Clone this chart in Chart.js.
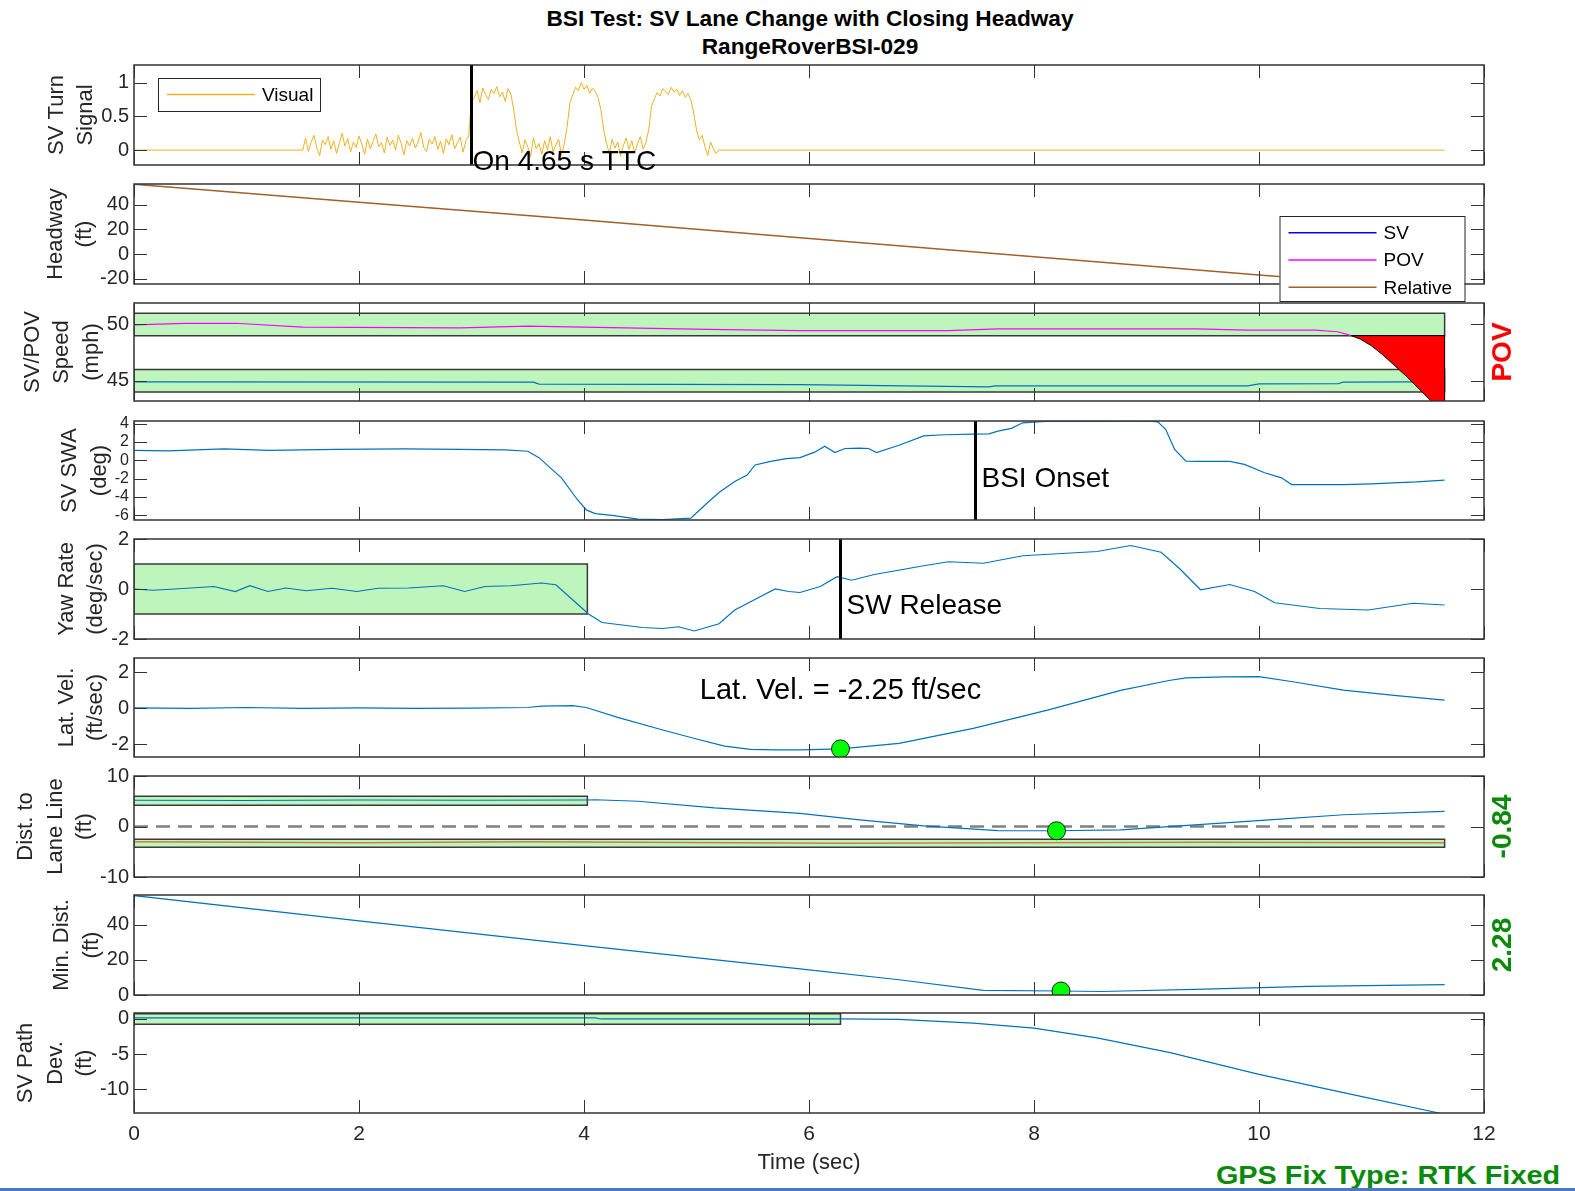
<!DOCTYPE html>
<html>
<head>
<meta charset="utf-8">
<title>BSI Test: SV Lane Change with Closing Headway</title>
<script src="https://cdn.jsdelivr.net/npm/chart.js@4.4.1/dist/chart.umd.min.js"></script>
<style>
  html, body { margin: 0; padding: 0; background: #fff; }
  body { width: 1575px; height: 1191px; position: relative; overflow: hidden; font-family: "Liberation Sans", Arial, sans-serif; }
  canvas { position: absolute; left: 0; }
  .title { position: absolute; left: 810px; font-weight: bold; font-size: 22px; color: #000; white-space: nowrap; transform: translate(-50%, -50%) scaleX(1.03); }
  #gps { position: absolute; right: 15px; top: 1175px; font-weight: bold; font-size: 26px; color: #0a8a0a; white-space: nowrap; transform-origin: right center; transform: translateY(-50%) scaleX(1.11); }
  #rule { position: absolute; left: 0; right: 0; bottom: 0; height: 3px; background: #4a78c2; z-index: 5; }
</style>
</head>
<body>
<div class="title" style="top:19px">BSI Test: SV Lane Change with Closing Headway</div>
<div class="title" style="top:47px">RangeRoverBSI-029</div>
<div id="gps">GPS Fix Type: RTK Fixed</div>
<div id="rule"></div>
<script>
// ---- data ----
const xTicks = [0, 2, 4, 6, 8, 10, 12];
const tEnd = 11.65;

// SV turn signal (visual), sampled every 25 ms from 1.5 s
const turnStart = 1.5, turnStep = 0.025;
const turnVals = [
  0.00, 0.18, -0.02, 0.12, 0.22, 0.03, -0.08, 0.15, 0.08, 0.20,
  0.01, 0.14, -0.05, 0.10, 0.25, 0.06, 0.17, -0.03, 0.12, 0.04,
  0.21, 0.09, -0.06, 0.16, 0.02, 0.13, 0.24, 0.05, 0.11, -0.04,
  0.19, 0.07, 0.15, 0.00, 0.22, 0.10, -0.07, 0.14, 0.06, 0.18,
  0.03, 0.12, 0.26, 0.04, -0.02, 0.16, 0.09, 0.20, 0.01, 0.13,
  -0.05, 0.17, 0.08, 0.23, 0.02, 0.11, 0.19, -0.03, 0.14, 0.21,
  0.72,
  0.78, 0.88, 0.70, 0.92, 0.82, 0.75, 0.90, 0.84, 0.94, 0.79, 0.86, 0.72, 0.91, 0.83,
  0.60, 0.30,
  0.12, -0.04, 0.15, 0.05, -0.10, 0.18, 0.02, 0.10, -0.06, 0.14, 0.00, 0.20, -0.03, 0.08, 0.16, -0.08, 0.10,
  0.35, 0.70,
  0.82, 0.93, 0.88, 1.00, 0.90, 0.96, 0.84, 0.92, 0.87, 0.78,
  0.60, 0.30,
  0.10, -0.05, 0.16, 0.03, 0.12, -0.09, 0.07, 0.18, 0.01, 0.14, -0.04, 0.09, 0.20, 0.02, 0.11,
  0.30, 0.65,
  0.76, 0.85, 0.80, 0.91, 0.87, 0.82, 0.93, 0.86, 0.90, 0.81, 0.88, 0.78, 0.84, 0.74,
  0.55, 0.30,
  0.15, 0.22, 0.05, -0.08, 0.12, 0.02, -0.05,
  0.00
];
const turnTicks = [0, 0.5, 1];
const ttcT = 3.0;

// headway
const headT = [0, 2, 4, 5.92, 8, 10, 11.65];
const headRel = [56.5, 42, 27.5, 13.2, -2.2, -17, -28.5];
const headTicks = [-20, 0, 20, 40];

// SV / POV speed
const povT = [0, 0.45, 0.9, 1.5, 2.9, 3.5, 5.1, 5.92, 7.24, 7.68, 9.44, 9.9, 10.5, 10.7, 10.82];
const povV = [49.95, 50.1, 50.1, 49.75, 49.7, 49.85, 49.55, 49.45, 49.45, 49.6, 49.6, 49.5, 49.5, 49.35, 49.0];
const svT = [0, 3.55, 3.6, 5.92, 7.6, 7.65, 9.9, 10.0, 10.7, 10.75, 11.4];
const svV = [44.9, 44.88, 44.7, 44.65, 44.45, 44.55, 44.55, 44.72, 44.73, 44.88, 44.9];
const povDropT = [10.82, 10.9, 11.0, 11.1, 11.2, 11.32, 11.43, 11.54, 11.65, 11.65, 10.82];
const povDropV = [49.0, 48.7, 48.1, 47.3, 46.4, 45.3, 44.2, 43.1, 42.0, 49.0, 49.0];
const povBandT = [0, 11.65], povBandY = [49, 51];
const svBandT = [0, 11.65], svBandY = [44, 46];
const speedTicks = [45, 50];

// steering wheel angle
const swaT = [0, 0.3, 0.8, 1.2, 1.8, 2.4, 2.9, 3.3, 3.5, 3.6, 3.68, 3.8, 3.93, 4.02, 4.1, 4.25, 4.48, 4.7, 4.95, 5.09,
  5.2, 5.34, 5.45, 5.52, 5.66, 5.8, 5.92, 6.05, 6.14, 6.23, 6.32, 6.45, 6.53, 6.6, 6.8, 7.02, 7.2, 7.46, 7.6, 7.68,
  7.8, 7.9, 8.1, 8.56, 9.0, 9.1, 9.17, 9.25, 9.35, 9.45, 9.74, 9.87, 10.05, 10.2, 10.29, 10.75, 11.0, 11.19, 11.4, 11.65];
const swaV = [1.1, 1.05, 1.25, 1.1, 1.2, 1.25, 1.2, 1.15, 1.0, 0.3, -0.6, -1.9, -4.1, -5.4, -5.8, -6.0, -6.4, -6.45, -6.3, -4.7,
  -3.5, -2.3, -1.6, -0.5, -0.1, 0.2, 0.3, 0.9, 1.55, 0.85, 1.3, 1.35, 1.3, 0.85, 1.65, 2.67, 2.8, 2.86, 2.9, 3.2,
  3.5, 4.1, 4.25, 4.25, 4.3, 4.2, 3.4, 1.2, -0.07, -0.1, -0.1, -0.44, -1.35, -1.9, -2.64, -2.64, -2.55, -2.45, -2.35, -2.16];
const swaTicks = [-6, -4, -2, 0, 2, 4];
const bsiOnsetT = 7.48;

// yaw rate
const yawT = [0, 0.17, 0.4, 0.71, 0.9, 1.03, 1.19, 1.35, 1.53, 1.76, 1.98, 2.17, 2.44, 2.75, 2.94, 3.12, 3.35, 3.62, 3.75, 4.04,
  4.16, 4.52, 4.7, 4.84, 4.98, 5.2, 5.34, 5.57, 5.7, 5.82, 5.92, 6.1, 6.25, 6.38, 6.58, 7.02, 7.24, 7.55, 7.9, 8.56,
  8.86, 9.13, 9.3, 9.48, 9.74, 9.96, 10.14, 10.54, 10.97, 11.37, 11.65];
const yawV = [0, -0.05, 0.01, 0.1, -0.1, 0.13, -0.1, 0.04, -0.07, 0.03, -0.1, 0.03, 0.04, 0.13, -0.1, 0.1, 0.13, 0.24, 0.17, -1.0,
  -1.34, -1.54, -1.58, -1.51, -1.68, -1.39, -0.84, -0.3, 0, -0.1, -0.14, 0.1, 0.49, 0.35, 0.58, 0.93, 1.09, 1.03, 1.33, 1.5,
  1.74, 1.47, 0.79, -0.03, 0.18, -0.1, -0.55, -0.78, -0.84, -0.57, -0.64];
const yawBandT = [0, 4.03], yawBandY = [-1, 1];
const yawTicks = [-2, 0, 2];
const swReleaseT = 6.28;

// lateral velocity
const latT = [0, 0.5, 1.0, 1.5, 2.0, 2.5, 3.0, 3.5, 3.62, 3.9, 4.02, 4.3, 4.7, 5.0, 5.25, 5.48, 5.7, 5.92, 6.28, 6.8,
  7.46, 8.12, 8.77, 9.2, 9.35, 9.7, 10.0, 10.3, 10.75, 11.2, 11.65];
const latV = [0.03, 0.0, 0.05, 0.0, 0.03, 0.0, 0.02, 0.05, 0.13, 0.15, 0.05, -0.5, -1.2, -1.7, -2.1, -2.28, -2.3, -2.3, -2.25, -1.94,
  -1.11, -0.1, 1.0, 1.55, 1.7, 1.75, 1.76, 1.48, 1.02, 0.72, 0.46];
const latTicks = [-2, 0, 2];
const latMark = [6.28, -2.25];

// distance to lane line
const laneT = [0, 1, 2, 3, 4.0, 4.1, 4.48, 5.16, 5.92, 6.45, 7.02, 7.68, 8.2, 8.77, 9.43, 10.09, 10.75, 11.65];
const laneV = [5.2, 5.15, 5.25, 5.2, 5.25, 5.3, 5.0, 3.67, 2.6, 1.33, 0.13, -0.8, -0.84, -0.67, 0.33, 1.33, 2.33, 3.0];
const laneOtherT = [0, 2.0, 3.5, 6.3, 9.5, 11.65];
const laneOtherV = [-3.0, -3.2, -3.0, -3.3, -3.1, -3.2];
const laneBandUpT = [0, 4.03], laneBandUpY = [4.2, 6.0];
const laneBandLoT = [0, 11.65], laneBandLoY = [-4.1, -2.5];
const laneTicks = [-10, 0, 10];
const laneMark = [8.2, -0.84];

// minimum distance
const minT = [0, 2, 4, 5.92, 6.8, 7.55, 8.24, 8.6, 9.52, 10.44, 11.65];
const minV = [56.8, 42.3, 28.2, 14.9, 8.7, 2.6, 2.28, 2.0, 3.4, 4.9, 5.9];
const minTicks = [0, 20, 40];
const minMark = [8.24, 2.28];

// SV path deviation
const pathT = [0, 4.1, 4.15, 6.28, 6.8, 7.46, 8.0, 8.56, 9.21, 10.0, 10.75, 11.6, 11.65];
const pathV = [0.15, 0.15, 0.0, 0.0, -0.05, -0.6, -1.3, -2.7, -4.8, -7.9, -10.5, -13.4, -13.6];
const pathBandT = [0, 6.28], pathBandY = [-0.75, 0.75];
const pathTicks = [-10, -5, 0];

// ---- helpers ----
const FONT = '"Liberation Sans", Arial, sans-serif';
const PLOT_LEFT = 134, PLOT_RIGHT = 1484, PAGE_W = 1575, PAD = 30, TICK = 13;
const BLUE = '#0072BD';
Chart.defaults.font.family = FONT;

const xy = (ts, vs) => ts.map((t, i) => ({x: t, y: vs[i]}));
const line = (data, color, width, extra) =>
  Object.assign({data, borderColor: color, borderWidth: width, pointRadius: 0, fill: false, order: 2}, extra || {});
const rect = (tr, yr) => [{x: tr[0], y: yr[0]}, {x: tr[0], y: yr[1]}, {x: tr[1], y: yr[1]}, {x: tr[1], y: yr[0]}, {x: tr[0], y: yr[0]}];
const band = (tr, yr) => ({data: rect(tr, yr), borderColor: '#3a3a3a', borderWidth: 1.5, backgroundColor: '#bdf5bd',
  fill: 'shape', pointRadius: 0, order: 10});
const vline = (t, lo, hi) => line([{x: t, y: lo}, {x: t, y: hi}], '#000', 3, {order: 1});
const marker = (m) => ({data: [{x: m[0], y: m[1]}], showLine: false, pointRadius: 9, pointBackgroundColor: '#00ff00',
  pointBorderColor: '#1a1a1a', pointBorderWidth: 1, order: 0});

const turnPts = [{x: 0, y: 0}];
turnVals.forEach((v, i) => turnPts.push({x: turnStart + i * turnStep, y: v}));
turnPts.push({x: tEnd, y: 0});

const panels = [
  {top: 65, bottom: 165, yMin: -0.22, yMax: 1.26, yTicks: turnTicks, title: ['SV Turn', 'Signal'],
   datasets: [line(turnPts, '#EDB120', 1), vline(ttcT, -0.22, 1.26)],
   notes: [{text: 'On 4.65 s TTC', t: ttcT, v: -0.18, dx: 1, align: 'left', size: 28}],
   legend: {dx: 24, dy: 13, w: 162, h: 33, items: [['Visual', '#EDB120']]}},
  {top: 184, bottom: 284, yMin: -24.3, yMax: 56.7, yTicks: headTicks, title: ['Headway', '(ft)'],
   datasets: [line(xy(headT, headRel), '#A0602A', 1.5)],
   legend: {dx: 1145.5, dy: 32, w: 185, h: 85, items: [['SV', '#0000FF'], ['POV', '#FF00FF'], ['Relative', '#A0602A']]}},
  {top: 303, bottom: 401, yMin: 43.2, yMax: 51.9, yTicks: speedTicks, title: ['SV/POV', 'Speed', '(mph)'],
   datasets: [
     line(xy(povDropT, povDropV), '#000', 1, {fill: 'shape', backgroundColor: '#ff0000', order: 1}),
     line(xy(povT, povV), '#FF00FF', 1.2),
     line(xy(svT, svV), BLUE, 1.2),
     band(povBandT, povBandY), band(svBandT, svBandY)],
   side: {text: 'POV', color: '#ff0000'}},
  {top: 421, bottom: 520, yMin: -6.5, yMax: 4.3, yTicks: swaTicks, tickSize: 16, title: ['SV SWA', '(deg)'],
   datasets: [line(xy(swaT, swaV), BLUE, 1.2), vline(bsiOnsetT, -6.5, 4.3)],
   notes: [{text: 'BSI Onset', t: bsiOnsetT, v: -2.1, dx: 6, align: 'left', size: 28}]},
  {top: 539, bottom: 639, yMin: -2, yMax: 2, yTicks: yawTicks, title: ['Yaw Rate', '(deg/sec)'],
   datasets: [line(xy(yawT, yawV), BLUE, 1.2), vline(swReleaseT, -2, 2), band(yawBandT, yawBandY)],
   notes: [{text: 'SW Release', t: swReleaseT, v: -0.71, dx: 6, align: 'left', size: 28}]},
  {top: 658, bottom: 757, yMin: -2.7, yMax: 2.8, yTicks: latTicks, title: ['Lat. Vel.', '(ft/sec)'],
   datasets: [marker(latMark), line(xy(latT, latV), BLUE, 1.2)],
   notes: [{text: 'Lat. Vel. = -2.25 ft/sec', t: latMark[0], v: 0.96, dx: 0, align: 'center', size: 29}]},
  {top: 776, bottom: 877, yMin: -10, yMax: 10, yTicks: laneTicks, title: ['Dist. to', 'Lane Line', '(ft)'],
   datasets: [marker(laneMark), line(xy(laneT, laneV), BLUE, 1.2),
     line([{x: 0, y: 0}, {x: tEnd, y: 0}], '#808080', 2.5, {borderDash: [14, 8], order: 3}),
     line(xy(laneOtherT, laneOtherV), 'rgba(217,83,25,0.75)', 1.5, {order: 3}),
     band(laneBandUpT, laneBandUpY), band(laneBandLoT, laneBandLoY)],
   side: {text: '-0.84', color: '#0a8a0a'}},
  {top: 895, bottom: 995, yMin: 0, yMax: 57.1, yTicks: minTicks, title: ['Min. Dist.', '(ft)'],
   datasets: [marker(minMark), line(xy(minT, minV), BLUE, 1.2)],
   side: {text: '2.28', color: '#0a8a0a'}},
  {top: 1013, bottom: 1113, yMin: -13.4, yMax: 0.85, yTicks: pathTicks, title: ['SV Path', 'Dev.', '(ft)'], last: true,
   datasets: [line(xy(pathT, pathV), BLUE, 1.2), band(pathBandT, pathBandY)]}
];

function framePlugin(p) {
  return {
    id: 'matlabFrame',
    afterDatasetsDraw(chart) {
      const {ctx, chartArea: a, scales: {x, y}} = chart;
      ctx.save();
      // inward ticks + box
      ctx.strokeStyle = '#333';
      ctx.lineWidth = 1;
      ctx.beginPath();
      xTicks.forEach(v => {
        const px = Math.round(x.getPixelForValue(v)) + 0.5;
        ctx.moveTo(px, a.top); ctx.lineTo(px, a.top + TICK);
        ctx.moveTo(px, a.bottom); ctx.lineTo(px, a.bottom - TICK);
      });
      p.yTicks.forEach(v => {
        const py = Math.round(y.getPixelForValue(v)) + 0.5;
        ctx.moveTo(a.left, py); ctx.lineTo(a.left + TICK, py);
        ctx.moveTo(a.right, py); ctx.lineTo(a.right - TICK, py);
      });
      ctx.stroke();
      ctx.lineWidth = 1.5;
      ctx.strokeRect(a.left, a.top, a.right - a.left, a.bottom - a.top);

      // text notes
      ctx.fillStyle = '#000';
      ctx.textBaseline = 'middle';
      (p.notes || []).forEach(n => {
        ctx.font = n.size + 'px ' + FONT;
        ctx.textAlign = n.align;
        ctx.fillText(n.text, x.getPixelForValue(n.t) + n.dx, y.getPixelForValue(n.v));
      });

      // y-axis title, to the left of the tick labels
      ctx.font = (p.tickSize || 20) + 'px ' + FONT;
      const w = Math.max(...y.ticks.map(t => ctx.measureText(String(t.label)).width));
      const base = PLOT_LEFT - 6 - w - 14;
      const cy = (a.top + a.bottom) / 2;
      ctx.font = '22px ' + FONT;
      ctx.fillStyle = '#262626';
      ctx.textAlign = 'center';
      p.title.forEach((s, i) => {
        ctx.save();
        ctx.translate(base - (p.title.length - 1 - i) * 29.5, cy);
        ctx.rotate(-Math.PI / 2);
        ctx.fillText(s, 0, 0);
        ctx.restore();
      });

      // bold label on the right
      if (p.side) {
        ctx.save();
        ctx.font = 'bold 28px ' + FONT;
        ctx.fillStyle = p.side.color;
        ctx.translate(1503, cy);
        ctx.rotate(-Math.PI / 2);
        ctx.fillText(p.side.text, 0, 0);
        ctx.restore();
      }

      // legend box
      if (p.legend) {
        const L = p.legend;
        const lx = a.left + L.dx, ly = a.top + L.dy;
        ctx.fillStyle = '#fff';
        ctx.fillRect(lx, ly, L.w, L.h);
        ctx.strokeStyle = '#262626';
        ctx.lineWidth = 1;
        ctx.strokeRect(lx + 0.5, ly + 0.5, L.w, L.h);
        ctx.font = '19px ' + FONT;
        ctx.textAlign = 'left';
        L.items.forEach((it, i) => {
          const ry = ly + (L.items.length === 1 ? L.h / 2 : 16.7 + i * 27.3);
          ctx.strokeStyle = it[1];
          ctx.lineWidth = 1.5;
          ctx.beginPath();
          ctx.moveTo(lx + 9, ry); ctx.lineTo(lx + 97, ry);
          ctx.stroke();
          ctx.fillStyle = '#000';
          ctx.fillText(it[0], lx + 104, ry + 1);
        });
      }
      ctx.restore();
    }
  };
}

panels.forEach((p) => {
  const cv = document.createElement('canvas');
  const extraBottom = p.last ? 78 : PAD;
  cv.width = PAGE_W;
  cv.height = (p.bottom - p.top) + PAD + extraBottom;
  cv.style.top = (p.top - PAD) + 'px';
  document.body.appendChild(cv);

  new Chart(cv.getContext('2d'), {
    type: 'line',
    data: {datasets: p.datasets},
    options: {
      responsive: false,
      animation: false,
      events: [],
      layout: {padding: {left: 0, right: PAGE_W - PLOT_RIGHT, top: PAD, bottom: p.last ? 0 : PAD}},
      elements: {line: {tension: 0}},
      plugins: {legend: {display: false}, tooltip: {enabled: false}},
      scales: {
        x: {
          type: 'linear', min: 0, max: 12,
          display: !!p.last,
          afterBuildTicks: s => { s.ticks = xTicks.map(v => ({value: v})); },
          afterFit: s => { if (p.last) s.height = 78; },
          grid: {display: false, drawTicks: false},
          border: {display: false},
          ticks: {font: {size: 21}, color: '#262626', padding: 9, maxRotation: 0, autoSkip: false,
                  callback: v => String(v)},
          title: {display: true, text: 'Time (sec)', font: {size: 22}, color: '#262626', padding: {top: 0, bottom: 15}}
        },
        y: {
          type: 'linear', min: p.yMin, max: p.yMax,
          afterBuildTicks: s => { s.ticks = p.yTicks.map(v => ({value: v})); },
          afterFit: s => { s.width = PLOT_LEFT; },
          grid: {display: false, drawTicks: false},
          border: {display: false},
          ticks: {font: {size: p.tickSize || 20}, color: '#262626', padding: 5, autoSkip: false,
                  callback: v => String(v)}
        }
      }
    },
    plugins: [framePlugin(p)]
  });
});
</script>
</body>
</html>
